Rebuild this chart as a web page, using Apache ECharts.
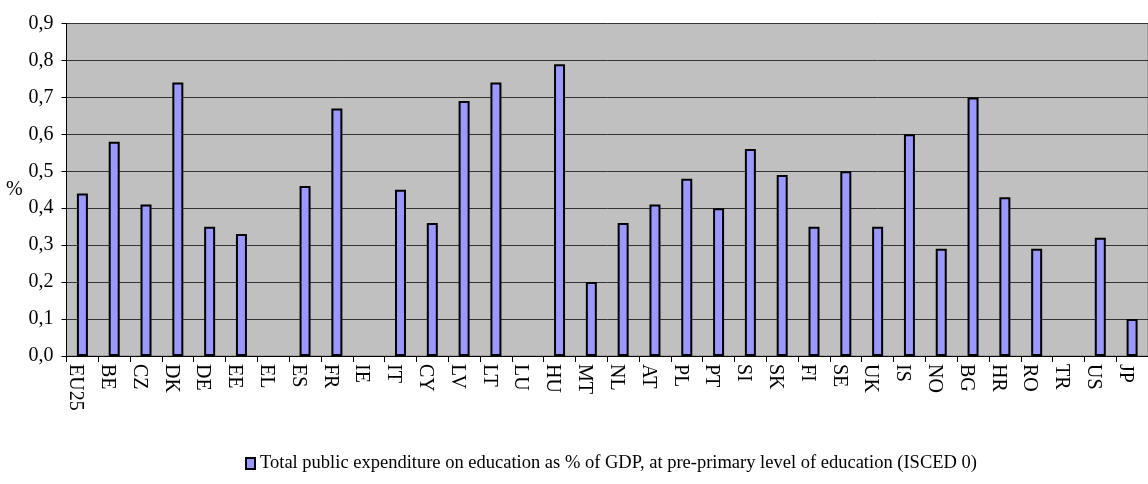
<!DOCTYPE html>
<html>
<head>
<meta charset="utf-8">
<script src="https://cdn.jsdelivr.net/npm/echarts@6/dist/echarts.min.js"></script>
<style>
  html, body { margin: 0; padding: 0; background: #fff; }
  #chart { width: 1148px; height: 484px; }
</style>
</head>
<body>
<div id="chart"></div>
<script>
// countries, in the order they appear on the x axis
const countries = ['EU25', 'BE', 'CZ', 'DK', 'DE', 'EE', 'EL', 'ES', 'FR', 'IE', 'IT', 'CY',
  'LV', 'LT', 'LU', 'HU', 'MT', 'NL', 'AT', 'PL', 'PT', 'SI', 'SK', 'FI', 'SE', 'UK',
  'IS', 'NO', 'BG', 'HR', 'RO', 'TR', 'US', 'JP'];

// % of GDP, null where no bar is drawn
const expenditure = [0.44, 0.58, 0.41, 0.74, 0.35, 0.33, null, 0.46, 0.67, null, 0.45, 0.36,
  0.69, 0.74, null, 0.79, 0.20, 0.36, 0.41, 0.48, 0.40, 0.56, 0.49, 0.35, 0.50, 0.35,
  0.60, 0.29, 0.70, 0.43, 0.29, null, 0.32, 0.10];

const seriesName = 'Total public expenditure on education as % of GDP, at pre-primary level of education (ISCED 0)';

const font = 'Liberation Serif';
const chart = echarts.init(document.getElementById('chart'));

chart.setOption({
  animation: false,
  textStyle: { fontFamily: font },
  grid: {
    left: 66.5,
    top: 23.5,
    width: 1092,
    height: 332.5,
    show: true,
    backgroundColor: '#C0C0C0',
    borderColor: '#808080',
    borderWidth: 1,
    containLabel: false
  },
  legend: {
    bottom: 6,
    left: 240,
    itemWidth: 9,
    itemHeight: 11,
    itemGap: 4,
    textStyle: { fontFamily: font, fontSize: 18.5, color: '#000', letterSpacing: -0.3 },
    data: [{ name: seriesName, icon: 'rect' }]
  },
  xAxis: {
    type: 'category',
    data: countries,
    axisLine: { lineStyle: { color: '#000', width: 1 } },
    axisTick: { show: true, length: 6, lineStyle: { color: '#000' } },
    axisLabel: {
      rotate: -90,
      interval: 0,
      margin: 8,
      fontFamily: font,
      fontSize: 20,
      lineHeight: 14,
      verticalAlign: 'top',
      color: '#000'
    }
  },
  yAxis: {
    type: 'value',
    min: 0,
    max: 0.9,
    interval: 0.1,
    name: '%',
    nameLocation: 'middle',
    nameRotate: 0,
    nameGap: 38,
    nameTextStyle: { fontFamily: font, fontSize: 20, color: '#000', padding: [6, 0, 0, 0] },
    axisLine: { show: true, lineStyle: { color: '#000', width: 1 } },
    axisTick: { show: true, length: 5, lineStyle: { color: '#000' } },
    splitLine: { show: true, lineStyle: { color: '#333', width: 1 } },
    axisLabel: {
      margin: 13,
      fontFamily: font,
      fontSize: 20,
      color: '#000',
      formatter: function (v) { return v.toFixed(1).replace('.', ','); }
    }
  },
  series: [{
    name: seriesName,
    type: 'bar',
    data: expenditure,
    barWidth: 11,
    itemStyle: {
      color: '#9999FF',
      borderColor: '#000',
      borderWidth: 2
    }
  }]
});
</script>
</body>
</html>
